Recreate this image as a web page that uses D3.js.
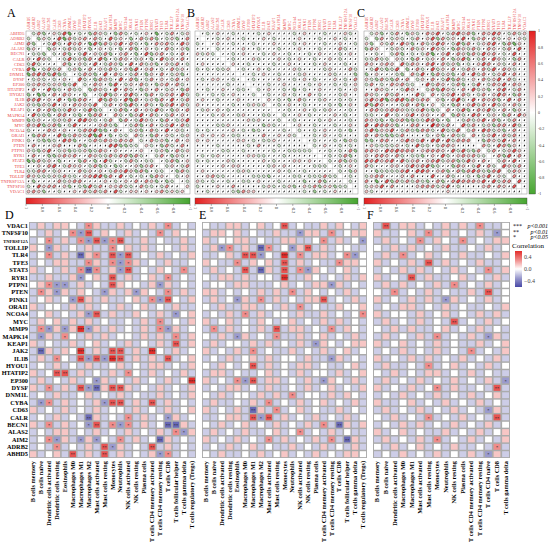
<!DOCTYPE html>
<html>
<head>
<meta charset="utf-8">
<script src="https://cdn.jsdelivr.net/npm/d3@7"></script>
<style>
  body { margin: 0; background: #fff; }
  text { font-family: "Liberation Serif", "DejaVu Serif", serif; }
</style>
</head>
<body>
<svg id="fig" width="550" height="542"></svg>
<script>
// genes used in the correlation matrices (A, B, C)
const genes = ["ABHD5","ADRB2","AIM2","ALAS2","BECN1","CALR","CD63","CYBA","DNM1L","DYSF","EP300","HTATIP2","HYOU1","IL1B","JAK2","KEAP1","MAPK14","MMP9","MYC","NCOA4","ORAI1","PINK1","PTEN","PTPN1","RYR1","STAT3","TFE3","TLR4","TOLLIP","TNFRSF12A","TNFSF10","VDAC1"];

// upper triangle rows, one char per pair: 0 weak, 1..4 = 0.2..0.8, a..d = -0.2..-0.8
const corrA = [
  "a2b01a3c0a0b21a0b2a0a010c0a20a1",
  "b1a03c2a1202a03a10b02a2b0a1b02",
  "0a3a03120c3b2a1302a0b0212a031",
  "b10a2a10b010a0b02b010a02a01b",
  "a02b0a301a2b0120b03b120a020",
  "0a3a1b203b0a210a10b03a1020",
  "2b01a030a21b0302a1b01a20a",
  "a1b0201a2a01b30120a02a10",
  "0a21b0302a0a20b1020a1b0",
  "3a0b21a0302b0a2010a201",
  "a0210b30a102a0b1202a0",
  "b21a0302a0b1020a10b2",
  "0a3b1023a0b20a1203a",
  "3b2a03c20a1b2030a2",
  "a201b3a02a0b1302a",
  "0a2b0201a3a0b102",
  "2a0b1302a0a2010",
  "b20a31a0b20a13",
  "0a2b020a1302a",
  "a1b02a0301a0",
  "2a0b201a0a1",
  "a02a1b0201",
  "1a0b2a020",
  "0a1b02a1",
  "a20b1a0",
  "0a2b01",
  "a10a2",
  "0b2a",
  "a01",
  "0a",
  "1"
];
const corrB = [
  "0a0100a0000a010000a01000a0001a0",
  "00a0100a00010a00001000a0010a00",
  "0100a000a0001000a01000a00100a",
  "a0000100a000a0001000a0002a00",
  "00a01000a0100a000a01000a010",
  "0a0001a00010a0100a0010a000",
  "100a0000a0010000a01000a00",
  "0a0010a00001a0000a10002a",
  "00a0100a000a100001a000b",
  "0a0000100a010a00010a02",
  "000a0010000a0100a0a010",
  "a0100a0b0a001000a0010",
  "0a0010a0020a000a1000",
  "10a0b02a00a100a0a0",
  "0a0100a0000a0b0100",
  "00a0010a0a1000a02",
  "a0010a000010a00b",
  "0a0000a01000a0a",
  "0100a000a0010a",
  "a00a0100a0b0",
  "00a0100a0002",
  "0a000a0b1a",
  "a0100a0a0",
  "00a0a02b",
  "0a0a2b0",
  "a02b1a",
  "0a010",
  "a0b1",
  "0a0",
  "a0",
  "0"
];
const corrC = [
  "a1b0a20b1a02130a2312b021320a2a1",
  "b20a1a0a2013b2a1030b1202a0101a",
  "1a2031b02a1320a3b20a1230b2c1",
  "0a1a02a1031a0b21a2a0210a203",
  "a2b0a0a2c013021b2a3120a03",
  "1a0b20a1020b13b0a2031a0b2",
  "3a2102302a1b0a013201a02",
  "b02a03a1020a2102a3021a",
  "2a30b2a1b0203a20a1302",
  "a1020a3b2a0102a1302a",
  "03a210a2b0a30a213021",
  "a2b31a0203a1b0230a2",
  "20a1302a0a201320b2",
  "1b024a030212b0302",
  "a0b2013a203a102a",
  "20a3b0213a020b1",
  "b2a0320a10b2031",
  "0a2a1302b0a20",
  "3a20a1b2203a",
  "a2032a1b02",
  "20a1302a2",
  "0b21a3020",
  "2a032b10",
  "a20a131",
  "02b302",
  "a2030",
  "31a2",
  "a21",
  "20",
  "3"
];
const corrTicks = [1, 0.8, 0.6, 0.4, 0.2, 0, -0.2, -0.4, -0.6, -0.8, -1];

// immune infiltration heatmaps (D, E, F)
const heatGenes = genes.slice().reverse();
const cellsDE = ["B cells memory","B cells naive","Dendritic cells activated","Dendritic cells resting","Eosinophils","Macrophages M0","Macrophages M1","Macrophages M2","Mast cells activated","Mast cells resting","Monocytes","Neutrophils","NK cells activated","NK cells resting","Plasma cells","T cells CD4 memory activated","T cells CD4 memory resting","T cells CD8","T cells follicular helper","T cells gamma delta","T cells regulatory (Tregs)"];
const cellsF = ["B cells memory","B cells naive","Dendritic cells activated","Macrophages M0","Macrophages M1","Mast cells activated","Mast cells resting","Monocytes","Neutrophils","NK cells resting","Plasma cells","T cells CD4 memory activated","T cells CD4 memory resting","T cells CD4 naive","T cells CD8","T cells gamma delta"];

// 4..1 = 0.6..0.15, 0 = none, x/y/z/w = -0.15..-0.6
const heatD = [
  "x1x110x21xx1x0x1x2x0x",
  "0x1x02y3x10x1x0x2x100",
  "x02x1x2y3y23xx1x0xx1x",
  "10y1x0x1xx201x1x00x1x",
  "x02x1xz12x3y3x0x1x0x1",
  "x0x11xx21x2y21x0x1xx0",
  "1x0x1x2z2x1y3x0x10x2x",
  "xx1xx1y01x3x1x01x2x0x",
  "012yyx1x0x3100x1y1x0x",
  "x21y1x10xy1x1y10x2x1x",
  "x01x0y31x1xx01x2y30x1",
  "1x00x1x1x0x1x01x0x1xx",
  "x01x0x1y3x1xx10x1xy01",
  "x101x1x1x0xx0x1x2x0x1",
  "x2y1y14y1x1x0x1x2y1x0",
  "xy1x20x1x1x00x1x1x2x1",
  "1x0xx1x01x0x1x0x1x3x1",
  "xz1x104x1x33x1x40x1x0",
  "x1x20x3y3y43x1x1x3x01",
  "x0x1x0x1xx01x0x11x0x1",
  "1x033x1x0x1x20x1x0x1x",
  "x1x0x1x0y1x0x1x0x1x04",
  "1x2x1x3yz1331x0x1x0x1",
  "x0x1xx01x0x1x0xx1x0x1",
  "xy2x1x0x1y33x1x3x1x0x",
  "1x0x1x0x1x00x1x0x1x01",
  "x0x1x0xz1x0x2x1x0y1x0",
  "1x2x1x0y3x2y2x1x0zz1x",
  "x0x11x0x1x0x1x0x1x2y1",
  "x02y1xy1y0x2x1x0z1x0x",
  "x0x2x0x1x3y1x0x3x1x0x",
  "1x01x3x1x3x1x0x1y2x0x"
];
const heatE = [
  "0xx11x01x03x0xx1x10x1",
  "x1101x0xx1xxy11x2x011",
  "1x0011x0xx11xx02x1x0y",
  "x1y2x1xz2x0y13x1x00xx",
  "xx01x33y0x4x2x11x02y0",
  "10xx2x101x3x1x0xx2110",
  "x1x0x3xz1x3x2y10x01x0",
  "0x11x1x00x4xx10x0x1x1",
  "x00x11xxx01x0x11y1x0x",
  "11x0x0x1x1x2x10x0x1x0",
  "x1x0y1x2x1x0x113x0x1x",
  "0x1xx11x0x1x2x0xx1001",
  "x0x1x2x1x00x1xx1x0x02",
  "1x01x0x10x01x0x1x1x0x",
  "x2x1x0x1x3x11x0x2x10x",
  "0x1xy1x0x2xx1x01x0x1x",
  "x1x00x1x1x0x1xy10x011",
  "1x0x1x2x0xx1x0x1x01x0",
  "x0x1x01x1x00x1xxy1x0x",
  "0x10x03x1x0x11x0xx01x",
  "x11x0xx01x0x1x00x1x01",
  "1x0x2y3x11x0x1xy10x1x",
  "x0x11x0x1xx0x1x01x0x1",
  "0x1x00x1x1x2x00x1x10x",
  "x1xx0x1x2x0x1x01x0x1x",
  "1x0x1xz1x2x01x0xx1x0x",
  "xx011x3y3x1x0x1x0x1x0",
  "0x1x01x0x1x0x1x2xz1x1",
  "x1x0x1xx01x02x0x1x0xx",
  "1x0x1x0x2x1x0x1x2xz1x",
  "x0x1x01x0xx1x0x1x0x1x",
  "0x1xx0x1x01x0x1x0x110"
];
const heatF = [
  "x3x11x0x1x1x2xx0",
  "1xx01x2x1x0x1xy0",
  "x1x0x2x10x2x0x11",
  "0x1x1x0x1xx0x1x0",
  "x1x2x01x0x1xx0x1",
  "1x0x1x3x1x0x1xx0",
  "x0x1x1x0x1x0x2x1",
  "1x0x3x1xx01x0x1x",
  "x1x1x0x1x2x0x1x0",
  "0x2x0x1x0xx1x3x0",
  "1x0x1x1xy1x0x1x0",
  "x0x11x0x1x0xx0x1",
  "1x00x1x01x0x1x1x",
  "x1x0x1x0x3x0x1x0",
  "0x1x1xx01x0x1x0x",
  "x1x0x1x2x0x1xy1x",
  "1x01x0x1x0xx1x01",
  "x0x1x0x1x0x2x0x1",
  "1x0x1x1x0x1x0x1x",
  "x1xx0x2x01x0x1x0",
  "0x1x0x11x0x1x0xx",
  "x1x0x1x0x1x0x1xy",
  "1x0x1x02x1xx0x3x",
  "x0x1x0x1x0x1x01x",
  "1xx01x0x1x0x1x0x",
  "x1x0x1x0x1x0xy1x",
  "0x1x0x2x0x1x0x3x",
  "x0x1x1x0x1x0x1x0",
  "1x01x0xx1x0x1x01",
  "x1x0x1x2x0x1x0x1",
  "0x1x01x0x1xx0x2x",
  "x0x1x0x1x0x1xy1x"
];
const heatTicks = [0.4, 0, -0.4];
const pLegend = [["***", "p<0.001"], ["**", "p<0.01"], ["*", "p<0.05"]];

const corrCode = { "0": 0.05, "1": 0.2, "2": 0.4, "3": 0.6, "4": 0.8, "a": -0.2, "b": -0.4, "c": -0.6, "d": -0.8 };
const heatCode = { "0": 0, "1": 0.15, "2": 0.3, "3": 0.45, "4": 0.6, "x": -0.15, "y": -0.3, "z": -0.45, "w": -0.6 };

const svg = d3.select("#fig");
const corrColor = d3.scaleLinear().domain([-1, 0, 1]).range(["#46a52f", "#ffffff", "#e41f1f"]).clamp(true);
const heatColor = d3.scaleLinear().domain([-0.55, 0, 0.55]).range(["#4848a6", "#ffffff", "#e32d2a"]).clamp(true);

function corrValue(rows, i, j) {
    if (i === j) return null;
    const a = Math.min(i, j), b = Math.max(i, j);
    const s = rows[a] || "";
    const ch = s[b - a - 1] || "0";
    return corrCode[ch];
}

// gradient defs
const defs = svg.append("defs");
const gH = defs.append("linearGradient").attr("id", "gradH").attr("x1", "0%").attr("x2", "100%");
corrTicks.forEach((t, k) => gH.append("stop").attr("offset", (k * 10) + "%").attr("stop-color", corrColor(t)));
const gV = defs.append("linearGradient").attr("id", "gradV").attr("x1", "0%").attr("x2", "0%").attr("y1", "0%").attr("y2", "100%");
corrTicks.forEach((t, k) => gV.append("stop").attr("offset", (k * 10) + "%").attr("stop-color", corrColor(t)));
const gL = defs.append("linearGradient").attr("id", "gradL").attr("x1", "0%").attr("x2", "0%").attr("y1", "0%").attr("y2", "100%");
[0.6, 0.3, 0, -0.3, -0.6].forEach((t, k) => gL.append("stop").attr("offset", (k * 25) + "%").attr("stop-color", heatColor(t)));

function corrPanel(rows, x0, x1, letter, letterX, showRowLabels, vertBar) {
    const y0 = 31, y1 = 194;
    const sx = d3.scaleBand().domain(genes).range([x0, x1]);
    const sy = d3.scaleBand().domain(genes).range([y0, y1]);
    const cs = sx.bandwidth();
    const g = svg.append("g");

    svg.append("text").attr("x", letterX).attr("y", 17).attr("font-size", 12).text(letter);

    const cells = [];
    genes.forEach((gi, i) => genes.forEach((gj, j) => cells.push({ i, j, r: corrValue(rows, i, j) })));

    g.selectAll("rect.cell").data(cells).join("rect")
        .attr("x", d => sx(genes[d.j]))
        .attr("y", d => sy(genes[d.i]))
        .attr("width", cs).attr("height", cs)
        .attr("fill", "#fff").attr("stroke", "#c4c4c4").attr("stroke-width", 0.35);

    const glyphs = cells.filter(d => d.r !== null);
    const size = r => 0.5 * cs * (0.5 + 0.5 * Math.abs(r));

    // near-zero pairs: small dark marks
    g.selectAll("ellipse.weak").data(glyphs.filter(d => Math.abs(d.r) < 0.1)).join("ellipse")
        .attr("transform", d => `translate(${sx(genes[d.j]) + cs / 2},${sy(genes[d.i]) + cs / 2}) rotate(-60)`)
        .attr("rx", 1.1).attr("ry", 0.55)
        .attr("fill", "#1a1a1a");

    g.selectAll("ellipse.strong").data(glyphs.filter(d => Math.abs(d.r) >= 0.1)).join("ellipse")
        .attr("transform", d => `translate(${sx(genes[d.j]) + cs / 2},${sy(genes[d.i]) + cs / 2}) rotate(${d.r > 0 ? -45 : 45})`)
        .attr("rx", d => size(d.r))
        .attr("ry", d => size(d.r) * (1 - 0.55 * Math.abs(d.r)))
        .attr("fill", d => corrColor(d.r * 1.3))
        .attr("stroke", "#1e1e1e").attr("stroke-width", 0.45);

    g.append("rect").attr("x", x0).attr("y", y0).attr("width", x1 - x0).attr("height", y1 - y0)
        .attr("fill", "none").attr("stroke", "#999").attr("stroke-width", 0.4);

    // column labels
    g.selectAll("text.col").data(genes).join("text")
        .attr("transform", d => `translate(${sx(d) + cs / 2 + 1.4},${y0 - 1}) rotate(-90)`)
        .attr("font-size", 4).attr("fill", "#e8413f").text(d => d);

    if (showRowLabels) {
        g.selectAll("text.row").data(genes).join("text")
            .attr("x", x0 - 1.5).attr("y", d => sy(d) + cs / 2 + 1.5)
            .attr("text-anchor", "end").attr("font-size", 4.4).attr("fill", "#e8413f").text(d => d);
    }

    // horizontal colour bar
    const bx = d3.scaleLinear().domain([1, -1]).range([x0, x1]);
    g.append("rect").attr("x", x0).attr("y", 198).attr("width", x1 - x0).attr("height", 6)
        .attr("fill", "url(#gradH)").attr("stroke", "#444").attr("stroke-width", 0.4);
    g.selectAll("line.tk").data(corrTicks).join("line")
        .attr("x1", d => bx(d)).attr("x2", d => bx(d)).attr("y1", 204).attr("y2", 206)
        .attr("stroke", "#444").attr("stroke-width", 0.4);
    g.selectAll("text.tk").data(corrTicks).join("text")
        .attr("transform", d => `translate(${bx(d) - 1.3},${207}) rotate(90)`)
        .attr("font-size", 4).attr("fill", "#333").text(d => d);

    if (vertBar) {
        const by = d3.scaleLinear().domain([1, -1]).range([y0, y1]);
        g.append("rect").attr("x", 529).attr("y", y0).attr("width", 6.5).attr("height", y1 - y0)
            .attr("fill", "url(#gradV)").attr("stroke", "#444").attr("stroke-width", 0.4);
        g.selectAll("text.vt").data(corrTicks).join("text")
            .attr("x", 538).attr("y", d => by(d) + 1.4)
            .attr("font-size", 4).attr("fill", "#333").text(d => d);
    }
}

corrPanel(corrA, 26, 190, "A", 7, true, false);
corrPanel(corrB, 195, 358, "B", 187, false, false);
corrPanel(corrC, 364, 527, "C", 357, false, true);

function heatPanel(rows, cols, x0, x1, letter, letterX, showRowLabels) {
    const y0 = 222, y1 = 458;
    const sx = d3.scaleBand().domain(cols).range([x0, x1]).paddingInner(0.2).paddingOuter(0.12);
    const sy = d3.scaleBand().domain(heatGenes).range([y0, y1]).paddingInner(0.2).paddingOuter(0.12);
    const g = svg.append("g");

    svg.append("text").attr("x", letterX).attr("y", 219).attr("font-size", 12).text(letter);

    g.append("rect").attr("x", x0).attr("y", y0).attr("width", x1 - x0).attr("height", y1 - y0).attr("fill", "#ababab");

    const cells = [];
    heatGenes.forEach((gn, i) => cols.forEach((c, j) => {
        const ch = (rows[i] || "")[j] || "0";
        cells.push({ gn, c, v: heatCode[ch] });
    }));

    g.selectAll("rect.cell").data(cells).join("rect")
        .attr("x", d => sx(d.c)).attr("y", d => sy(d.gn))
        .attr("width", sx.bandwidth()).attr("height", sy.bandwidth())
        .attr("fill", d => heatColor(d.v));

    g.selectAll("text.star").data(cells.filter(d => Math.abs(d.v) >= 0.3)).join("text")
        .attr("x", d => sx(d.c) + sx.bandwidth() / 2)
        .attr("y", d => sy(d.gn) + sy.bandwidth() / 2 + 2.2)
        .attr("text-anchor", "middle").attr("font-size", 4.5).attr("fill", "#222")
        .text(d => Math.abs(d.v) >= 0.6 ? "***" : Math.abs(d.v) >= 0.45 ? "**" : "*");

    g.selectAll("text.col").data(cols).join("text")
        .attr("transform", d => `translate(${sx(d) + sx.bandwidth() / 2 + 2},${y1 + 3}) rotate(-90)`)
        .attr("text-anchor", "end").attr("font-size", 6.3).attr("font-weight", "bold").text(d => d);

    if (showRowLabels) {
        g.selectAll("text.row").data(heatGenes).join("text")
            .attr("x", x0 - 1).attr("y", d => sy(d) + sy.bandwidth() / 2 + 2.2)
            .attr("text-anchor", "end").attr("font-weight", "bold")
            .attr("font-size", d => d.length > 7 ? 4.4 : 6.3).text(d => d);
    }
}

heatPanel(heatD, cellsDE, 29, 196, "D", 5, true);
heatPanel(heatE, cellsDE, 202, 367, "E", 199, false);
heatPanel(heatF, cellsF, 373, 510, "F", 367, false);

// legend for D-F
const lg = svg.append("g");
lg.selectAll("text.st").data(pLegend).join("text")
    .attr("x", 513).attr("y", (d, k) => 228 + k * 5.5).attr("font-size", 6).text(d => d[0]);
lg.selectAll("text.pv").data(pLegend).join("text")
    .attr("x", 548).attr("y", (d, k) => 228 + k * 5.5).attr("text-anchor", "end")
    .attr("font-size", 6).attr("font-style", "italic").text(d => d[1]);
lg.append("text").attr("x", 512).attr("y", 248).attr("font-size", 7).text("Correlation");
const ly = d3.scaleLinear().domain([0.6, -0.6]).range([251, 287]);
lg.append("rect").attr("x", 515).attr("y", 251).attr("width", 7).attr("height", 36).attr("fill", "url(#gradL)");
lg.selectAll("text.lt").data(heatTicks).join("text")
    .attr("x", 524).attr("y", d => ly(d) + 2).attr("font-size", 6).attr("fill", "#444")
    .text(d => d === 0 ? "0.0" : d3.format(".1f")(d).replace("-", "\u2212"));
</script>
</body>
</html>
